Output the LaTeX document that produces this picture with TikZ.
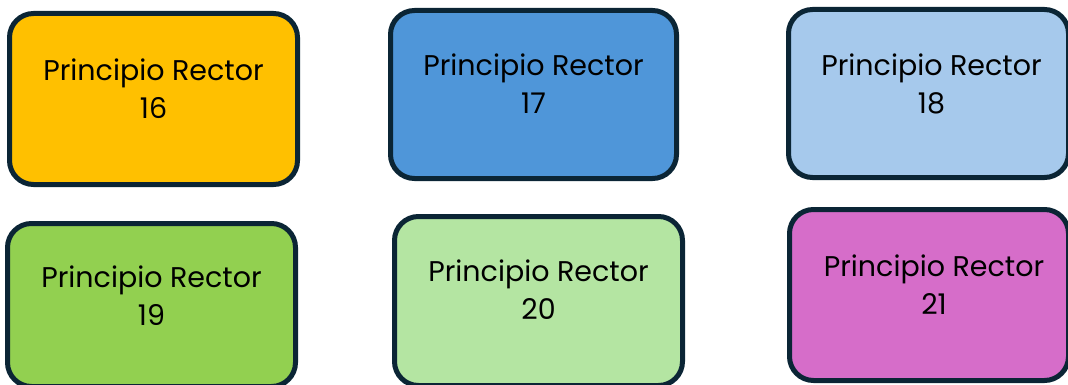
\documentclass[tikz,border=0pt]{standalone}
\usepackage{fontspec}
\setmainfont{Poppins}
\usetikzlibrary{positioning}

\definecolor{rim}{HTML}{0B2535}
\definecolor{pr16}{HTML}{FFC000}
\definecolor{pr17}{HTML}{4F96D9}
\definecolor{pr18}{HTML}{A6C9EC}
\definecolor{pr19}{HTML}{92D050}
\definecolor{pr20}{HTML}{B4E5A2}
\definecolor{pr21}{HTML}{D66DC9}

\begin{document}
\begin{tikzpicture}[x=1pt, y=-1pt,
  pbox/.style={draw=rim, line width=5pt, rounded corners=24pt, inner sep=0pt},
  ptext/.style={align=center, text=black, font=\fontsize{28.5}{38}\selectfont}]

\useasboundingbox (0,0) rectangle (1068,385); %% page size

%% top row
\node[pbox, fill=pr16, minimum width=288pt, minimum height=171pt] (p16) at (153.5,99) {};
\node[pbox, fill=pr17, minimum width=286pt, minimum height=168pt] (p17) at (533.5,94.5) {};
\node[pbox, fill=pr18, minimum width=280pt, minimum height=168pt] (p18) at (928.5,93.5) {};

%% bottom row
\node[pbox, fill=pr19, minimum width=288pt, minimum height=163pt] (p19) at (151.5,305) {};
\node[pbox, fill=pr20, minimum width=288pt, minimum height=169pt] (p20) at (538.5,301) {};
\node[pbox, fill=pr21, minimum width=279pt, minimum height=171pt] (p21) at (929,295) {};

%% labels
\node[ptext, yshift=10pt] (t16) at (p16.center) {Principio Rector\\16};
\node[ptext, yshift=11pt] (t17) at (p17.center) {Principio Rector\\17};
\node[ptext, yshift=10pt, xshift=3pt] (t18) at (p18.center) {Principio Rector\\18};
\node[ptext, yshift=9pt] (t19) at (p19.center) {Principio Rector\\19};
\node[ptext, yshift=11pt] (t20) at (p20.center) {Principio Rector\\20};
\node[ptext, yshift=10pt, xshift=5pt] (t21) at (p21.center) {Principio Rector\\21};

\end{tikzpicture}
\end{document}
